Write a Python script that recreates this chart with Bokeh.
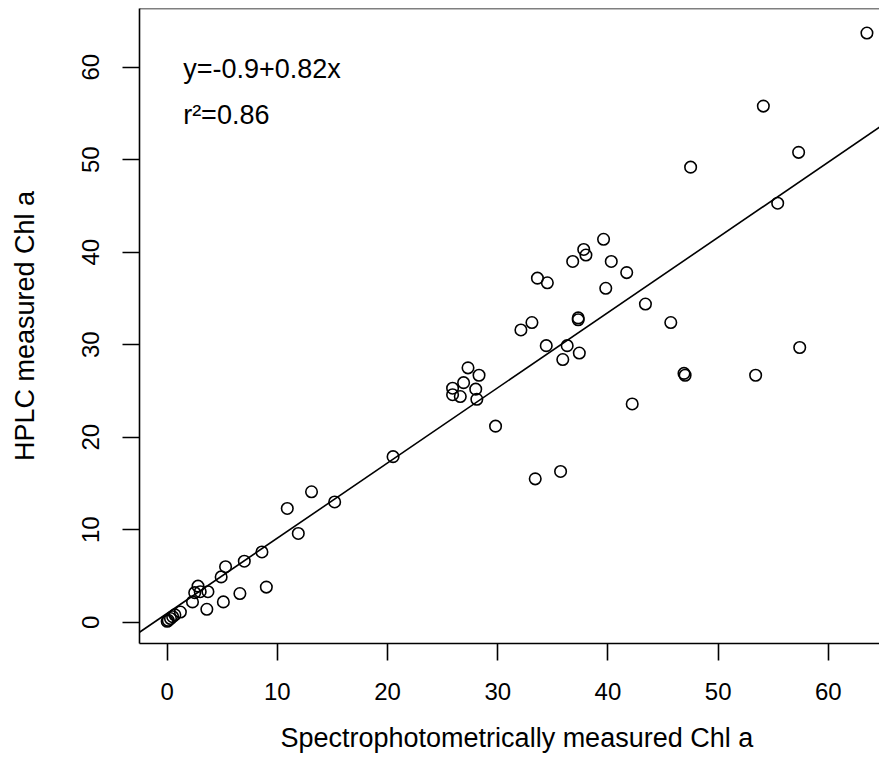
from bokeh.plotting import figure
from bokeh.models import Label, Span, FixedTicker, Title
from bokeh.embed import file_html
from bokeh.resources import INLINE

# ---- data ----
spec_chl = [63.5, 54.1, 57.3, 47.5, 55.4, 39.6, 37.8, 38.0, 36.8, 40.3,
            33.6, 34.5, 41.7, 39.8, 43.4, 45.7, 37.3, 37.3, 33.1, 32.1,
            57.4, 46.9, 47.0, 53.4, 42.2, 34.4, 36.3, 37.4, 35.9, 29.8,
            33.4, 35.7, 27.3, 28.3, 26.9, 25.9, 28.0, 25.9, 26.6, 28.1,
            20.5, 13.1, 15.2, 10.9, 11.9, 8.6, 7.0, 5.3, 4.9, 9.0,
            6.6, 5.1, 3.6, 2.8, 2.5, 3.0, 3.7, 2.3, 1.2, 0.7,
            0.5, 0.3, 0.1, 0.0]
hplc_chl = [63.7, 55.8, 50.8, 49.2, 45.3, 41.4, 40.3, 39.7, 39.0, 39.0,
            37.2, 36.7, 37.8, 36.1, 34.4, 32.4, 32.9, 32.7, 32.4, 31.6,
            29.7, 26.9, 26.7, 26.7, 23.6, 29.9, 29.9, 29.1, 28.4, 21.2,
            15.5, 16.3, 27.5, 26.7, 25.9, 25.3, 25.2, 24.6, 24.4, 24.1,
            17.9, 14.1, 13.0, 12.3, 9.6, 7.6, 6.6, 6.0, 4.9, 3.8,
            3.1, 2.2, 1.4, 3.9, 3.2, 3.3, 3.3, 2.2, 1.1, 0.8,
            0.6, 0.4, 0.2, 0.1]

x_ticks = [0, 10, 20, 30, 40, 50, 60]
y_ticks = [0, 10, 20, 30, 40, 50, 60]

# fitted line as drawn in the picture
fit_intercept = 0.96
fit_slope = 0.813

eq_text = "y=-0.9+0.82x"
r2_text = "r\u00b2=0.86"
x_label = "Spectrophotometrically measured Chl a"
y_label = "HPLC measured Chl a"

FONT = "Liberation Sans"

X0, X1 = -2.51, 64.64
Y0, Y1 = -2.30, 66.35

p = figure(width=879, height=772, x_range=(X0, X1), y_range=(Y0, Y1),
           output_backend="svg", toolbar_location=None,
           min_border_left=139, min_border_right=0,
           min_border_top=8, min_border_bottom=129)

p.outline_line_color = None
p.xgrid.visible = False
p.ygrid.visible = False

for ax in (p.xaxis[0], p.yaxis[0]):
    ax.axis_line_color = "black"
    ax.axis_line_width = 1.6
    ax.major_tick_line_color = "black"
    ax.major_tick_line_width = 1.6
    ax.major_tick_out = 17
    ax.major_tick_in = 0
    ax.minor_tick_line_color = None
    ax.major_label_text_font = FONT
    ax.major_label_text_font_size = "24px"
    ax.major_label_text_color = "black"

p.xaxis[0].ticker = FixedTicker(ticks=x_ticks)
p.yaxis[0].ticker = FixedTicker(ticks=y_ticks)
p.xaxis[0].major_label_standoff = 22
p.yaxis[0].major_label_standoff = 23
p.yaxis[0].major_label_orientation = "vertical"

p.yaxis[0].axis_label = y_label
p.yaxis[0].axis_label_text_font = FONT
p.yaxis[0].axis_label_text_font_size = "27px"
p.yaxis[0].axis_label_text_font_style = "normal"
p.yaxis[0].axis_label_text_color = "black"
p.yaxis[0].axis_label_standoff = 40

# x axis title, positioned as in the original (centred on the full box)
xt = Title(text=x_label, align="left", offset=141, text_font=FONT,
           text_font_size="27px", text_font_style="normal",
           text_color="black", standoff=37)
p.add_layout(xt, "below")

# top border of the box
p.add_layout(Span(location=Y1, dimension="width", line_color="black", line_width=1.6))

# regression line across the plotting region
lx = [X0, X1]
ly = [fit_intercept + fit_slope * v for v in lx]
p.line(lx, ly, line_color="black", line_width=1.6)

# points
p.scatter(spec_chl, hplc_chl, marker="circle", size=11.5,
          fill_color=None, line_color="black", line_width=1.6)

# annotations
p.add_layout(Label(x=1.45, y=59.8, text=eq_text, text_font=FONT,
                   text_font_size="27px", text_color="black",
                   text_align="left", text_baseline="middle"))
p.add_layout(Label(x=1.45, y=54.8, text=r2_text, text_font=FONT,
                   text_font_size="27px", text_color="black",
                   text_align="left", text_baseline="middle"))

open("out.html", "w").write(file_html(p, INLINE))
